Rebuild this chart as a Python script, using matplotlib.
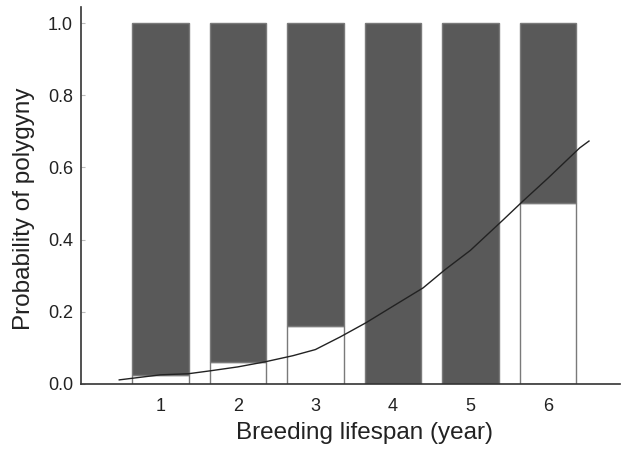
import matplotlib
matplotlib.use("Agg")
import matplotlib.pyplot as plt

# Breeding lifespan categories and proportion of polygynous males
lifespan = [1, 2, 3, 4, 5, 6]
polygyny = [0.025, 0.06, 0.16, 0.0, 0.0, 0.50]
monogamy = [1 - p for p in polygyny]

# Fitted curve
curve_x = [0.47, 1.0, 1.36, 1.64, 2.0, 2.35, 2.71, 3.0, 3.32, 3.65, 4.0,
           4.39, 4.67, 5.0, 5.42, 5.68, 6.0, 6.41, 6.53]
curve_y = [0.011, 0.025, 0.028, 0.036, 0.047, 0.061, 0.078, 0.095, 0.13,
           0.169, 0.215, 0.266, 0.316, 0.37, 0.454, 0.507, 0.57, 0.654, 0.673]

yticks = [0.0, 0.2, 0.4, 0.6, 0.8, 1.0]

plt.rcParams['font.family'] = ['Liberation Sans', 'DejaVu Sans']

fig = plt.figure(figsize=(6.25, 4.5), dpi=100)
ax = fig.add_axes([0.13, 0.147, 0.862, 0.837])

# white part = polygyny, dark part stacked on top
ax.bar(lifespan, polygyny, width=0.73, color='white',
       edgecolor='#7a7a7a', linewidth=1.0, zorder=2)
ax.bar(lifespan, monogamy, width=0.73, bottom=polygyny, color='#595959',
       edgecolor='#7a7a7a', linewidth=1.0, zorder=2)

ax.plot(curve_x, curve_y, color='#222222', linewidth=1.0, zorder=3)

ax.set_xlim(-0.02, 6.93)
ax.set_ylim(0, 1.044)
ax.set_xticks(lifespan)
ax.set_yticks(yticks)
ax.set_yticklabels(["%.1f" % t for t in yticks])

for side in ['top', 'right']:
    ax.spines[side].set_visible(False)
for side in ['left', 'bottom']:
    ax.spines[side].set_color('#333333')
    ax.spines[side].set_linewidth(1.2)

ax.tick_params(axis='x', length=0, pad=10, labelsize=13, colors='#222222')
ax.tick_params(axis='y', direction='in', length=3, pad=6, labelsize=13,
               colors='#222222', color='#bbbbbb')

ax.set_xlabel("Breeding lifespan (year)", fontsize=17.5, color='#222222',
              labelpad=5)
ax.set_ylabel("Probability of polygyny", fontsize=17.5, color='#222222',
              labelpad=9)
# labels sit a little off-centre in the original
ax.xaxis.label.set_x(0.525)
ax.yaxis.label.set_y(0.465)

fig.savefig("out.png", dpi=100)
